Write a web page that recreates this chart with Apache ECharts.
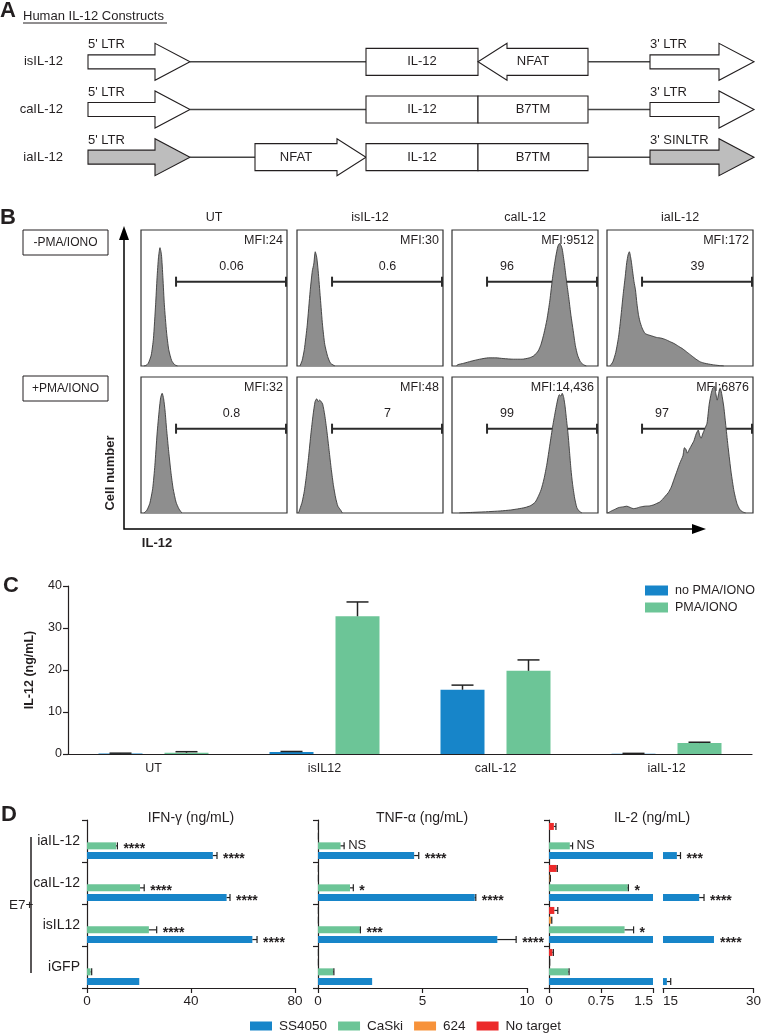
<!DOCTYPE html>
<html><head><meta charset="utf-8">
<script src="https://cdn.jsdelivr.net/npm/echarts@6/dist/echarts.min.js"></script>
<style>html,body{margin:0;padding:0;background:#fff}#c{width:764px;height:1035px}</style>
</head><body><div id="c"></div>
<script>
// ================= DATA =================
// Panel A: construct maps (units along construct)
const constructNames = ['isIL-12', 'caIL-12', 'iaIL-12'];
// [row, start, end, kind, innerText, topText]
const constructParts = [
  [0, 0, 102, 'ltr', '', "5' LTR"],
  [0, 102, 278, 'line', '', ''],
  [0, 278, 390, 'box', 'IL-12', ''],
  [0, 390, 500, 'arrowL', 'NFAT', ''],
  [0, 500, 562, 'line', '', ''],
  [0, 562, 666, 'ltr', '', "3' LTR"],
  [1, 0, 102, 'ltr', '', "5' LTR"],
  [1, 102, 278, 'line', '', ''],
  [1, 278, 390, 'box', 'IL-12', ''],
  [1, 390, 500, 'box', 'B7TM', ''],
  [1, 500, 562, 'line', '', ''],
  [1, 562, 666, 'ltr', '', "3' LTR"],
  [2, 0, 102, 'ltrGrey', '', "5' LTR"],
  [2, 102, 167, 'line', '', ''],
  [2, 167, 278, 'arrowR', 'NFAT', ''],
  [2, 278, 390, 'box', 'IL-12', ''],
  [2, 390, 500, 'box', 'B7TM', ''],
  [2, 500, 562, 'line', '', ''],
  [2, 562, 666, 'ltrGrey', '', "3' SINLTR"]
];

// Panel B: flow histograms ([IL-12 position %, cell count % of max frame])
const histConditions = ['UT', 'isIL-12', 'caIL-12', 'iaIL-12'];
const histTreatments = ['-PMA/IONO', '+PMA/IONO'];
const mfiNoPMA = ['MFI:24', 'MFI:30', 'MFI:9512', 'MFI:172'];
const mfiPMA = ['MFI:32', 'MFI:48', 'MFI:14,436', 'MFI:6876'];
const gatePctNoPMA = ['0.06', '0.6', '96', '39'];
const gatePctPMA = ['0.8', '7', '99', '97'];
const gateLabelSideNoPMA = ['mid', 'mid', 'left', 'mid'];
const gateLabelSidePMA = ['mid', 'mid', 'left', 'left'];
const gateRange = [24, 100, 62];
const histUT_noPMA = [[2,0],[3.5,0.5],[5,2],[7,8],[8.5,20],[10,45],[11,65],[12,80],[13,87],[14,82],[15,65],[16,45],[17.5,25],[19,12],[21,4],[23,1],[25,0]];
const histIs_noPMA = [[2,0],[3.5,4],[5,12],[7,30],[9,55],[10.5,70],[11.5,75],[12.5,84],[13.5,80],[14.5,70],[16,50],[17.5,30],[19,16],[21,7],[23,2],[26,0]];
const histCa_noPMA = [[3,0],[4,1],[8,2],[13,3.5],[19,5],[25,6],[30,6],[35,5.5],[42,5],[48,5],[53,6],[56,7.5],[59,11],[61,16],[63,24],[65,34],[67,48],[69,66],[71,80],[72.5,88],[73.5,90],[74.5,89],[75.5,86],[77,75],[78.5,62],[80,50],[81.5,37],[83,26],[84.5,15],[86,8],[88,3],[90,1],[92,0]];
const histIa_noPMA = [[2,0],[4,3],[6,10],[8,22],[9.5,36],[11,52],[12.5,66],[13.5,76],[14.5,82],[15.3,84],[16.5,78],[17.5,70],[18.5,62],[19.5,56],[20.5,46],[21.5,38],[22.5,33],[24,28],[26,24],[28,23],[31,22],[34,21],[37,20.5],[40,19.5],[43,18],[46,16.5],[49,14.5],[52,12.5],[55,10],[58,7.5],[61,5],[64,3],[67,2],[72,1],[77,0.3],[80,0]];
const histUT_PMA = [[2,0],[4,2],[6,7],[8,18],[9.5,35],[11,58],[12.5,76],[13.5,85],[14.5,88],[15.5,84],[16.5,75],[17.5,62],[19,45],[20.5,30],[22,18],[24,8],[26,3],[28,0]];
const histIs_PMA = [[1,0],[2,3],[3.5,8],[5,16],[6.5,28],[8,42],[9.5,58],[11,72],[12.4,82],[13.5,84],[14.5,82],[15.5,83],[16.5,82],[17.6,80],[19,72],[20.5,60],[22,46],[23.5,32],[25,20],[26.5,11],[28,5],[30,2],[31,0]];
const histCa_PMA = [[5,0],[15,0.5],[25,1],[33,1.5],[40,2.2],[45,3],[50,4],[54,5.5],[57,8],[59,12],[61,17],[63,25],[65,36],[67,50],[69,64],[71,76],[72.5,84],[73.5,87],[74.5,86],[75.5,88],[76.5,85],[77.5,78],[78.5,68],[79.5,58],[80.5,45],[81.5,32],[82.5,22],[84,11],[85.5,4],[87,1.5],[89,0]];
const histIa_PMA = [[0.5,0],[3,1.5],[6,3],[8,4],[11,4.5],[13.6,5],[16,4],[18,3.2],[20,3.5],[23,4.5],[26,5],[29,5.2],[32,6],[34,7],[36,8],[38,10],[40,12.5],[42,15],[44,19],[46,25],[48,31],[50,37],[52,42],[53,48],[54,47],[55,44],[56,46],[57,48],[58,50],[59.5,53],[61,58],[62.5,61],[63.5,57],[64.5,55],[65.5,58],[67,62],[68.5,66],[70,80],[71.4,88],[72.5,92],[73.7,93],[74.5,88],[75.5,83],[76.5,88],[77.5,92],[78.5,88],[80,78],[81.5,63],[83,48],[85,30],[87,16],[89,7],[91,2.5],[93,0.8],[95,0]];

// Panel C: IL-12 secretion
const cCategories = ['UT', 'isIL12', 'caIL-12', 'iaIL-12'];
const cTicks = [0, 10, 20, 30, 40];
const il12NoPMA = [0.1, 0.5, 15.3, 0.05];
const il12NoPMAErr = [0.1, 0.1, 1.1, 0.1];
const il12PMA = [0.3, 32.8, 19.8, 2.6];
const il12PMAErr = [0.25, 3.4, 2.6, 0.2];

// Panel D: cytokine release (categories bottom -> top)
const dCategories = ['iGFP', 'isIL12', 'caIL-12', 'iaIL-12'];
const ifnSS4050 = [20.1, 63.6, 53.7, 48.4], ifnSS4050Err = [0, 1.8, 1.3, 1.6];
const ifnCaSki = [1.4, 23.8, 20.4, 11.2], ifnCaSkiErr = [0.4, 3.0, 1.6, 0.5];
const ifn624 = [0, 0, 0, 0], ifn624Err = [0, 0, 0, 0];
const ifnNoTarget = [0, 0, 0, 0], ifnNoTargetErr = [0, 0, 0, 0];
const ifnSigSS4050 = ['', '****', '****', '****'];
const ifnSigCaSki = ['', '****', '****', '****'];

const tnfSS4050 = [2.59, 8.58, 7.5, 4.6], tnfSS4050Err = [0, 0.9, 0.05, 0.22];
const tnfCaSki = [0.73, 2.0, 1.53, 1.08], tnfCaSkiErr = [0.03, 0.03, 0.16, 0.17];
const tnf624 = [0.01, 0.01, 0.01, 0.01], tnf624Err = [0.01, 0.01, 0.01, 0.01];
const tnfNoTarget = [0.01, 0.01, 0.01, 0.01], tnfNoTargetErr = [0.01, 0.01, 0.01, 0.01];
const tnfSigSS4050 = ['', '****', '****', '****'];
const tnfSigCaSki = ['', '***', '*', 'NS'];

const il2SS4050 = [15.64, 23.45, 21.0, 17.3], il2SS4050Err = [0.64, 0, 0.8, 0.6];
const il2CaSki = [0.28, 1.09, 1.135, 0.3], il2CaSkiErr = [0.01, 0.13, 0.01, 0.04];
const il2_624 = [0.005, 0.033, 0.01, 0], il2_624Err = [0.005, 0.007, 0.01, 0];
const il2NoTarget = [0.05, 0.077, 0.11, 0.07], il2NoTargetErr = [0.013, 0.05, 0.01, 0.03];
const il2SigSS4050 = ['', '****', '****', '***'];
const il2SigCaSki = ['', '*', '*', 'NS'];

const dTitles = ['IFN-\u03b3 (ng/mL)', 'TNF-\u03b1 (ng/mL)', 'IL-2 (ng/mL)'];
const dLegend = ['SS4050', 'CaSki', '624', 'No target'];

// ================= STYLE =================
const FR = '"Liberation Sans", Arial, Helvetica, sans-serif';
const INK = '#231f20';
const BLUE = '#1785c9', GREEN = '#6cc597', ORANGE = '#f7923a', RED = '#ec2a2a';

function T(text, x, y, font, align, valign, extra) {
  return Object.assign({type: 'text', x: x, y: y, silent: true,
    style: {text: text, font: font, fill: INK, align: align || 'left', textAlign: align || 'left',
            verticalAlign: valign || 'middle', textVerticalAlign: valign || 'middle'}}, extra || {});
}

const grids = [], xAxes = [], yAxes = [], series = [], graphics = [];
function addGrid(g, xa, ya) {
  grids.push(g); const gi = grids.length - 1;
  xa.gridIndex = gi; ya.gridIndex = gi; xAxes.push(xa); yAxes.push(ya);
  return gi;
}

// ================= PANEL A =================
function renderConstruct(params, api) {
  const part = constructParts[params.dataIndex];
  const kind = part[3];
  const a = api.coord([api.value(1), api.value(0)]);
  const b = api.coord([api.value(2), api.value(0)]);
  const x0 = a[0], x1 = b[0], y = a[1];
  const ch = [];
  const f = '13px ' + FR;
  if (kind === 'line') {
    ch.push({type: 'line', shape: {x1: x0, y1: y, x2: x1, y2: y}, style: {stroke: '#444', lineWidth: 1.5}});
  } else if (kind === 'box') {
    ch.push({type: 'rect', shape: {x: x0, y: y - 13.5, width: x1 - x0, height: 27}, style: {fill: '#fff', stroke: INK, lineWidth: 1.1}});
    ch.push(T(part[4], (x0 + x1) / 2, y, f, 'center'));
  } else {
    const isLtr = kind.indexOf('ltr') === 0;
    const h = isLtr ? 7 : 13.5, H = 18.5, L = isLtr ? 35 : 29;
    let pts;
    if (kind === 'arrowL') pts = [[x1, y - h], [x0 + L, y - h], [x0 + L, y - H], [x0, y], [x0 + L, y + H], [x0 + L, y + h], [x1, y + h]];
    else pts = [[x0, y - h], [x1 - L, y - h], [x1 - L, y - H], [x1, y], [x1 - L, y + H], [x1 - L, y + h], [x0, y + h]];
    ch.push({type: 'polygon', shape: {points: pts}, style: {fill: kind === 'ltrGrey' ? '#bdbdbd' : '#fff', stroke: INK, lineWidth: 1.1}});
    if (part[4]) ch.push(T(part[4], kind === 'arrowL' ? (x0 + x1) / 2 : x0 + (x1 - x0 - L) / 2, y, f, 'center'));
    if (part[5]) ch.push(T(part[5], x0, y - 17, f, 'left'));
  }
  return {type: 'group', children: ch};
}
const gA = addGrid({left: 88, top: 38, width: 666, height: 143},
  {type: 'value', min: 0, max: 666, show: false},
  {type: 'category', data: constructNames, inverse: true, axisLine: {show: false}, axisTick: {show: false},
   axisLabel: {margin: 25, fontSize: 13, fontFamily: FR, color: INK}});
series.push({type: 'custom', xAxisIndex: gA, yAxisIndex: gA, encode: {x: [1, 2], y: 0}, silent: true,
  data: constructParts.map(p => [p[0], p[1], p[2]]), renderItem: renderConstruct});
graphics.push(T('A', 0, 11, 'bold 22px ' + FR, 'left'));
graphics.push(T('Human IL-12 Constructs', 23, 16, '13px ' + FR, 'left'));
graphics.push({type: 'line', silent: true, shape: {x1: 23, y1: 23, x2: 167, y2: 23}, style: {stroke: INK, lineWidth: 1}});

// ================= PANEL B =================
const B_LEFT = [141, 297, 452, 607], B_W = 146, B_TOP = [230, 377], B_H = 136;
const histCurves = [[histUT_noPMA, histIs_noPMA, histCa_noPMA, histIa_noPMA], [histUT_PMA, histIs_PMA, histCa_PMA, histIa_PMA]];
const mfis = [mfiNoPMA, mfiPMA], gatePcts = [gatePctNoPMA, gatePctPMA], gateSides = [gateLabelSideNoPMA, gateLabelSidePMA];
function makeGateRender(label, side, mfi) {
  return function (params, api) {
    const s = api.coord([api.value(0), api.value(2)]);
    const e = api.coord([api.value(1), api.value(2)]);
    const tr = api.coord([100, 100]);
    const lx = side === 'left' ? s[0] + 20 : (s[0] + e[0]) / 2;
    const ls = {stroke: '#2b2b2b', lineWidth: 2};
    return {type: 'group', children: [
      {type: 'line', shape: {x1: s[0], y1: s[1], x2: e[0] - 1, y2: e[1]}, style: ls},
      {type: 'line', shape: {x1: s[0], y1: s[1] - 5, x2: s[0], y2: s[1] + 5}, style: ls},
      {type: 'line', shape: {x1: e[0] - 1, y1: e[1] - 5, x2: e[0] - 1, y2: e[1] + 5}, style: ls},
      T(label, lx, s[1] - 15, '12.5px ' + FR, 'center'),
      T(mfi, tr[0] - 4, tr[1] + 11, '12.5px ' + FR, 'right')
    ]};
  };
}
for (let r = 0; r < 2; r++) {
  for (let c = 0; c < 4; c++) {
    const gi = addGrid({left: B_LEFT[c], top: B_TOP[r], width: B_W, height: B_H, show: true, borderColor: '#333', borderWidth: 1.2, backgroundColor: 'transparent'},
      {type: 'value', min: 0, max: 100, show: false},
      {type: 'value', min: 0, max: 100, show: false});
    series.push({type: 'line', xAxisIndex: gi, yAxisIndex: gi, data: histCurves[r][c], symbol: 'none', smooth: 0.2, silent: true,
      lineStyle: {color: '#3a3a3a', width: 0.9}, areaStyle: {color: '#8e8e8e', opacity: 1}});
    series.push({type: 'custom', xAxisIndex: gi, yAxisIndex: gi, encode: {x: [0, 1], y: 2}, silent: true,
      data: [gateRange], renderItem: makeGateRender(gatePcts[r][c], gateSides[r][c], mfis[r][c])});
  }
}
for (let c = 0; c < 4; c++) graphics.push(T(histConditions[c], B_LEFT[c] + B_W / 2, 218, '12.5px ' + FR, 'center'));
graphics.push(T('B', 0, 218, 'bold 22px ' + FR, 'left'));
for (let r = 0; r < 2; r++) {
  const ty = r === 0 ? 230 : 376;
  graphics.push({type: 'rect', silent: true, shape: {x: 23, y: ty, width: 85, height: 25}, style: {fill: '#fff', stroke: INK, lineWidth: 1}});
  graphics.push(T(histTreatments[r], 65.5, ty + 12.5, '12px ' + FR, 'center'));
}
graphics.push({type: 'polyline', silent: true, shape: {points: [[124, 238], [124, 529], [696, 529]]}, style: {stroke: '#000', lineWidth: 1.5, fill: null}});
graphics.push({type: 'polygon', silent: true, shape: {points: [[124, 226], [119, 240], [129, 240]]}, style: {fill: '#000'}});
graphics.push({type: 'polygon', silent: true, shape: {points: [[706, 529], [692, 524], [692, 534]]}, style: {fill: '#000'}});
graphics.push(T('Cell number', 110, 473, 'bold 13px ' + FR, 'center', 'middle', {rotation: Math.PI / 2}));
graphics.push(T('IL-12', 157, 543, 'bold 13px ' + FR, 'center'));

// ================= PANEL C =================
const C_BW = 44, C_GAP = 22;
const gC = addGrid({left: 68, right: 12, top: 586, height: 168},
  {type: 'category', data: cCategories,
   axisLine: {lineStyle: {color: INK, width: 1.2}},
   axisTick: {alignWithLabel: true, length: 5, lineStyle: {color: INK, width: 1.2}},
   axisLabel: {fontSize: 12.5, fontFamily: FR, color: INK, margin: 8}},
  {type: 'value', min: cTicks[0], max: cTicks[cTicks.length - 1], interval: cTicks[1] - cTicks[0],
   name: 'IL-12 (ng/mL)', nameLocation: 'middle', nameGap: 32,
   nameTextStyle: {fontWeight: 'bold', fontSize: 12.5, fontFamily: FR, color: INK},
   axisLine: {show: true, lineStyle: {color: INK, width: 1.2}},
   axisTick: {show: true, length: 5, lineStyle: {color: INK, width: 1.2}},
   splitLine: {show: false},
   axisLabel: {fontSize: 12.5, fontFamily: FR, color: INK, margin: 6}});
series.push({type: 'bar', name: 'no PMA/IONO', xAxisIndex: gC, yAxisIndex: gC, data: il12NoPMA, barWidth: C_BW, barGap: (C_GAP / C_BW * 100) + '%', itemStyle: {color: BLUE}, silent: true});
series.push({type: 'bar', name: 'PMA/IONO', xAxisIndex: gC, yAxisIndex: gC, data: il12PMA, barWidth: C_BW, itemStyle: {color: GREEN}, silent: true});
const cErrData = [];
[[il12NoPMA, il12NoPMAErr], [il12PMA, il12PMAErr]].forEach((pair, s) => pair[0].forEach((v, c) => cErrData.push([c, v, pair[1][c], s])));
series.push({type: 'custom', xAxisIndex: gC, yAxisIndex: gC, encode: {x: 0, y: 1}, silent: true, z: 5, data: cErrData,
  renderItem: function (params, api) {
    const c = api.value(0), v = api.value(1), e = api.value(2), s = api.value(3);
    const total = 2 * C_BW + C_GAP;
    const off = -total / 2 + s * (C_BW + C_GAP) + C_BW / 2;
    const b = api.coord([c, v]), t = api.coord([c, v + e]);
    const x = b[0] + off;
    const ls = {stroke: '#222', lineWidth: 1.5};
    return {type: 'group', children: [
      {type: 'line', shape: {x1: x, y1: b[1], x2: x, y2: t[1]}, style: ls},
      {type: 'line', shape: {x1: x - 11, y1: t[1], x2: x + 11, y2: t[1]}, style: ls}
    ]};
  }});
graphics.push(T('C', 3, 586, 'bold 22px ' + FR, 'left'));

// ================= PANEL D =================
const D_W = 7, D_G = 2.7;
const dBlocks = [
  {vals: [ifnNoTarget, ifn624, ifnCaSki, ifnSS4050], errs: [ifnNoTargetErr, ifn624Err, ifnCaSkiErr, ifnSS4050Err], sig: [null, null, ifnSigCaSki, ifnSigSS4050]},
  {vals: [tnfNoTarget, tnf624, tnfCaSki, tnfSS4050], errs: [tnfNoTargetErr, tnf624Err, tnfCaSkiErr, tnfSS4050Err], sig: [null, null, tnfSigCaSki, tnfSigSS4050]},
  {vals: [il2NoTarget, il2_624, il2CaSki, il2SS4050], errs: [il2NoTargetErr, il2_624Err, il2CaSkiErr, il2SS4050Err], sig: [null, null, il2SigCaSki, il2SigSS4050]}
];
const dNames = ['No target', '624', 'CaSki', 'SS4050'];
const dColors = [RED, ORANGE, GREEN, BLUE];
function dXAxis(min, max, interval, extra) {
  return {type: 'value', min: min, max: max, interval: interval,
    axisLine: {show: true, onZero: false, lineStyle: {color: INK, width: 1.2}},
    axisTick: {show: true, length: 5, lineStyle: {color: INK, width: 1.2}},
    axisLabel: Object.assign({fontSize: 13.5, fontFamily: FR, color: INK, margin: 6}, extra || {}),
    splitLine: {show: false}};
}
function dYAxis(showLabels, showAxis) {
  return {type: 'category', data: dCategories,
    axisLine: {show: showAxis, lineStyle: {color: INK, width: 1.2}},
    axisTick: {show: showAxis, length: 5, lineStyle: {color: INK, width: 1.2}},
    axisLabel: {show: showLabels, fontSize: 14, fontFamily: FR, color: INK, margin: 7},
    splitLine: {show: false}};
}
function addDBars(gi, block, xmin, xmax) {
  for (let s = 0; s < 4; s++) {
    series.push({type: 'bar', name: dNames[s], xAxisIndex: gi, yAxisIndex: gi, data: block.vals[s],
      barWidth: D_W, barGap: (D_G / D_W * 100) + '%', itemStyle: {color: dColors[s]}, silent: true});
  }
  const items = [], labels = [];
  for (let s = 0; s < 4; s++) for (let c = 0; c < 4; c++) {
    items.push([block.vals[s][c], c, block.errs[s][c], s]);
    labels.push(block.sig[s] ? block.sig[s][c] : '');
  }
  series.push({type: 'custom', xAxisIndex: gi, yAxisIndex: gi, encode: {x: 0, y: 1}, silent: true, z: 5, data: items,
    renderItem: function (params, api) {
      const v = api.value(0), c = api.value(1), e = api.value(2), s = api.value(3);
      const end = v + e;
      if (end > xmax + 1e-9 || end < xmin) return null;
      const total = 4 * D_W + 3 * D_G;
      const p0 = api.coord([v, c]), p1 = api.coord([end, c]);
      const y = p0[1] - total / 2 + s * (D_W + D_G) + D_W / 2;
      const ch = [];
      const ls = {stroke: '#222', lineWidth: 1.2};
      if (e > 0) {
        ch.push({type: 'line', shape: {x1: p0[0], y1: y, x2: p1[0], y2: y}, style: ls});
        ch.push({type: 'line', shape: {x1: p1[0], y1: y - 3.5, x2: p1[0], y2: y + 3.5}, style: ls});
      }
      const lab = labels[params.dataIndex];
      if (lab) {
        const star = lab.indexOf('*') === 0;
        ch.push(T(lab, p1[0] + (star ? 6 : 4), y + (star ? 3.5 : 0), star ? 'bold 14px ' + FR : '13px ' + FR, 'left'));
      }
      return {type: 'group', children: ch};
    }});
}
const D_TOP = 820, D_H = 168;
const gD1 = addGrid({left: 87, top: D_TOP, width: 208, height: D_H}, dXAxis(0, 80, 40), dYAxis(true, true));
addDBars(gD1, dBlocks[0], 0, 80);
const gD2 = addGrid({left: 318, top: D_TOP, width: 209, height: D_H}, dXAxis(0, 10, 5), dYAxis(false, true));
addDBars(gD2, dBlocks[1], 0, 10);
const gD3a = addGrid({left: 549, top: D_TOP, width: 104, height: D_H}, dXAxis(0, 1.5, 0.75, {alignMaxLabel: 'right'}), dYAxis(false, true));
addDBars(gD3a, dBlocks[2], 0, 1.5);
const gD3b = addGrid({left: 663, top: D_TOP, width: 94, height: D_H}, dXAxis(15, 30, 15, {alignMinLabel: 'left'}), dYAxis(false, false));
addDBars(gD3b, dBlocks[2], 15, 30);
graphics.push(T(dTitles[0], 191, 818, '14px ' + FR, 'center'));
graphics.push(T(dTitles[1], 422, 818, '14px ' + FR, 'center'));
graphics.push(T(dTitles[2], 652, 818, '14px ' + FR, 'center'));
graphics.push(T('D', 1, 815, 'bold 22px ' + FR, 'left'));
graphics.push(T('E7+', 9, 905, '13.5px ' + FR, 'left'));
graphics.push({type: 'line', silent: true, shape: {x1: 31, y1: 837, x2: 31, y2: 973}, style: {stroke: INK, lineWidth: 1.5}});

// ================= CHART =================
const chart = echarts.init(document.getElementById('c'), null, {renderer: 'canvas'});
chart.setOption({
  animation: false,
  backgroundColor: '#fff',
  textStyle: {fontFamily: FR},
  grid: grids, xAxis: xAxes, yAxis: yAxes, series: series,
  legend: [
    {data: ['no PMA/IONO', 'PMA/IONO'], orient: 'vertical', left: 645, top: 584, padding: 0, itemWidth: 23, itemHeight: 10, itemGap: 4,
     icon: 'rect', selectedMode: false, textStyle: {fontSize: 12.5, fontFamily: FR, color: INK, padding: [0, 0, 0, 2]}},
    {data: dLegend, orient: 'horizontal', left: 250, top: 1019, padding: 0, itemWidth: 22, itemHeight: 9, itemGap: 11,
     icon: 'rect', selectedMode: false, textStyle: {fontSize: 13.5, fontFamily: FR, color: INK, padding: [0, 0, 0, 2]}}
  ],
  graphic: {elements: graphics}
});
</script></body></html>
